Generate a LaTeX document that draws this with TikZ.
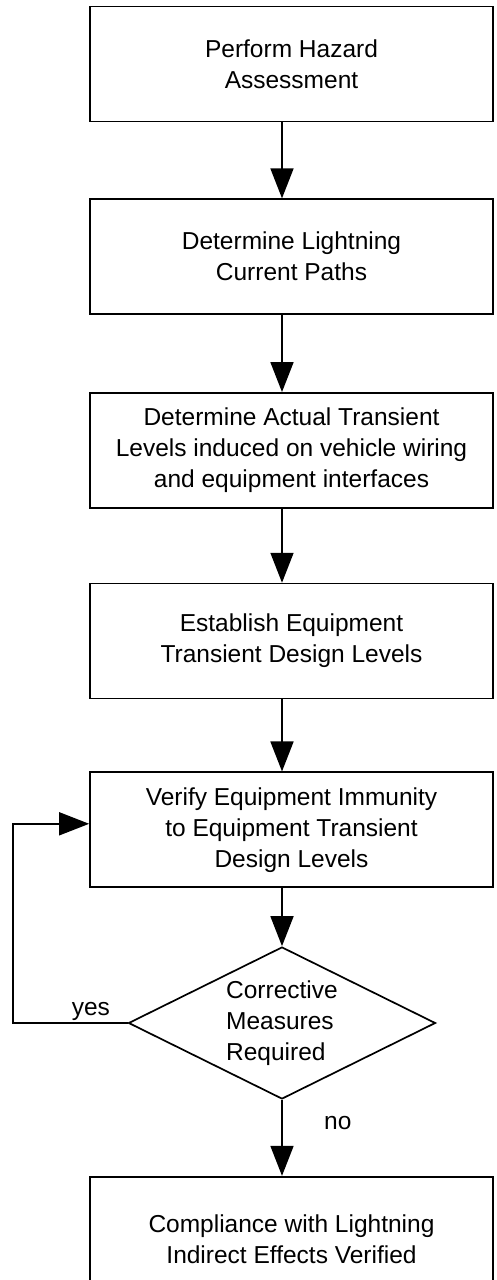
\documentclass[tikz,border=0pt]{standalone}
\usepackage{fontspec}
\setmainfont{Liberation Sans}
\usetikzlibrary{positioning,shapes.geometric,arrows.meta}

\begin{document}
\begin{tikzpicture}[
  every node/.style={font=\fontsize{24.5}{31}\selectfont},
  stage/.style={draw, line width=1.7pt, minimum width=403pt, minimum height=115pt, align=center, inner sep=0pt},
  query/.style={draw, diamond, aspect=2, line width=1.7pt, minimum width=307pt, minimum height=152pt, align=left, inner sep=0pt},
  flow/.style={line width=1.7pt, -{Triangle[length=30pt,width=23pt]}}
  ]
  \useasboundingbox (0,0) rectangle (496pt,-1280pt);
  \node[stage] (hazard) at (291.5pt,-64pt) {Perform Hazard\\Assessment};
  \node[stage, below=76pt of hazard] (paths) {Determine Lightning\\Current Paths};
  \node[stage, below=77pt of paths] (actual) {Determine Actual Transient\\Levels induced on vehicle wiring\\and equipment interfaces};
  \node[stage, below=74pt of actual] (design) {Establish Equipment\\Transient Design Levels};
  \node[stage, below=72pt of design] (verify) {Verify Equipment Immunity\\to Equipment Transient\\Design Levels};
  \node[query, below=58pt of verify, xshift=-9.5pt] (decide) {Corrective\\Measures\\Required};
  \node[stage, minimum height=125pt, below=76pt of decide, xshift=9.5pt] (comply) {Compliance with Lightning\\Indirect Effects Verified};
  % main flow
  \draw[flow] (hazard.south -| decide) -- (paths.north -| decide);
  \draw[flow] (paths.south -| decide) -- (actual.north -| decide);
  \draw[flow] (actual.south -| decide) -- (design.north -| decide);
  \draw[flow] (design.south -| decide) -- (verify.north -| decide);
  \draw[flow] (verify.south -| decide) -- (decide.north);
  \draw[flow] (decide.south) -- node[pos=0.3, right=38pt] {no} (comply.north -| decide);
  % loop back
  \draw[flow] (decide.west) -- node[pos=0.32, above, inner sep=2pt] {yes} ++(-115pt,0) |- ([yshift=6pt]verify.west);
\end{tikzpicture}
\end{document}
